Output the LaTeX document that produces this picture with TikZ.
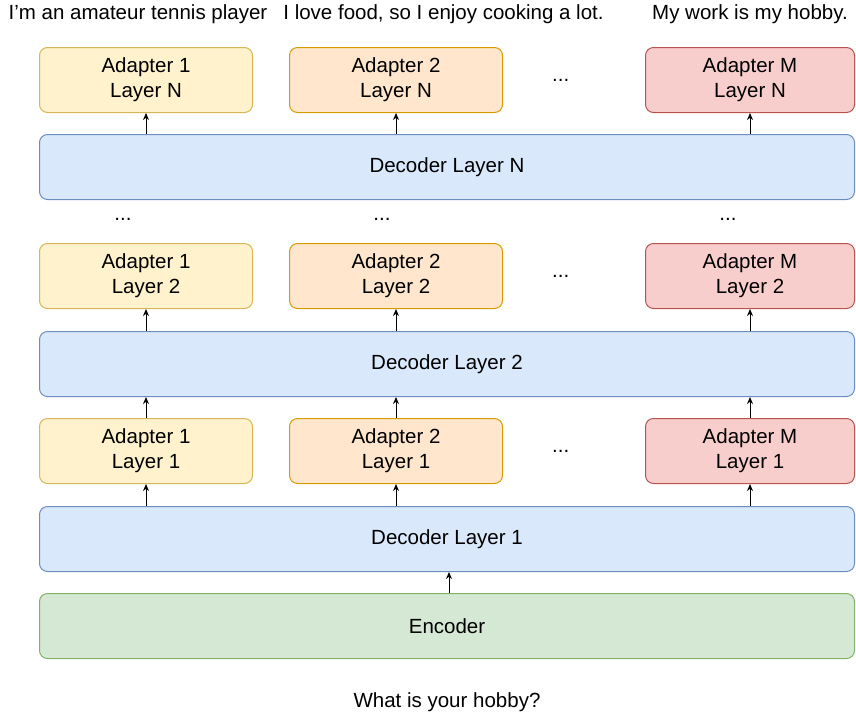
\documentclass[tikz,border=0pt]{standalone}
\usepackage{fontspec}
\setmainfont{Liberation Sans}
\usepackage{xcolor}
\usetikzlibrary{arrows.meta, positioning, calc}
\definecolor{yelfill}{HTML}{FFF2CC}
\definecolor{yeldraw}{HTML}{D6B656}
\definecolor{orafill}{HTML}{FFE6CC}
\definecolor{oradraw}{HTML}{D79B00}
\definecolor{redfill}{HTML}{F8CECC}
\definecolor{reddraw}{HTML}{B85450}
\definecolor{blufill}{HTML}{DAE8FC}
\definecolor{bludraw}{HTML}{6C8EBF}
\definecolor{grnfill}{HTML}{D5E8D4}
\definecolor{grndraw}{HTML}{82B366}
\tikzset{
  layer/.style   = {rectangle, rounded corners=8pt, line width=1pt,
                    minimum width=815pt, minimum height=65pt,
                    align=center, inner sep=0pt},
  adapter/.style = {rectangle, rounded corners=8pt, line width=1pt,
                    minimum width=213pt, minimum height=65pt,
                    align=center, inner sep=0pt},
  ada1/.style    = {adapter, draw=yeldraw, fill=yelfill},
  ada2/.style    = {adapter, draw=oradraw, fill=orafill},
  adaM/.style    = {adapter, draw=reddraw, fill=redfill, minimum width=209pt},
  dec/.style     = {layer, draw=bludraw, fill=blufill},
  arr/.style     = {-{Stealth[length=7pt, width=6pt]}, line width=1pt},
  dots/.style    = {inner sep=0pt},
}

\begin{document}
\begin{tikzpicture}[
  x=1pt, y=1pt,
  font=\fontsize{20.5}{25}\selectfont,
  node distance=21pt,
]
  \useasboundingbox (0,0) rectangle (856,-713);

  % encoder and decoder stack
  \node[layer, draw=grndraw, fill=grnfill] (enc) at (447,-626) {Encoder};
  \node[dec, above=of enc] (dec1) {Decoder Layer 1};

  \node[ada1, above=22pt of dec1.north west, anchor=south west] (a1l1) {Adapter 1\\Layer 1};
  \node[ada2, right=36pt of a1l1] (a2l1) {Adapter 2\\Layer 1};
  \node[adaM, above=22pt of dec1.north east, anchor=south east] (aMl1) {Adapter M\\Layer 1};
  \node[dots, right=49pt of a2l1] (d1) {...};

  \node[dec, above=of a1l1.north west, anchor=south west] (dec2) {Decoder Layer 2};

  \node[ada1, above=22pt of dec2.north west, anchor=south west] (a1l2) {Adapter 1\\Layer 2};
  \node[ada2, right=36pt of a1l2] (a2l2) {Adapter 2\\Layer 2};
  \node[adaM, above=22pt of dec2.north east, anchor=south east] (aMl2) {Adapter M\\Layer 2};
  \node[dots, right=49pt of a2l2] (d2) {...};

  \node[dots] (v1) at ($(a1l2.north)+(-23,24)$) {...};
  \node[dots] (v2) at ($(a2l2.north)+(-14,24)$) {...};
  \node[dots] (vM) at ($(aMl2.north)+(-22,24)$) {...};

  \node[dec, above=43pt of a1l2.north west, anchor=south west] (decN) {Decoder Layer N};

  \node[ada1, above=of decN.north west, anchor=south west] (a1lN) {Adapter 1\\Layer N};
  \node[ada2, right=36pt of a1lN] (a2lN) {Adapter 2\\Layer N};
  \node[adaM, above=of decN.north east, anchor=south east] (aMlN) {Adapter M\\Layer N};
  \node[dots, right=49pt of a2lN] (dN) {...};

  % texts
  \node[anchor=base] (t1) at (138,-19) {I'm an amateur tennis player};
  \node[anchor=base] (t2) at (443.5,-19) {I love food, so I enjoy cooking a lot.};
  \node[anchor=base] (t3) at (750,-19) {My work is my hobby.};
  \node[anchor=base] (q) at (447,-707) {What is your hobby?};

  % arrows
  \draw[arr] ($(enc.north)+(2,0)$) -- ($(dec1.south)+(2,0)$);

  \draw[arr] (a1l1.south |- dec1.north) -- (a1l1.south);
  \draw[arr] (a2l1.south |- dec1.north) -- (a2l1.south);
  \draw[arr] (aMl1.south |- dec1.north) -- (aMl1.south);

  \draw[arr] (a1l1.north) -- (a1l1.north |- dec2.south);
  \draw[arr] (a2l1.north) -- (a2l1.north |- dec2.south);
  \draw[arr] (aMl1.north) -- (aMl1.north |- dec2.south);

  \draw[arr] (a1l2.south |- dec2.north) -- (a1l2.south);
  \draw[arr] (a2l2.south |- dec2.north) -- (a2l2.south);
  \draw[arr] (aMl2.south |- dec2.north) -- (aMl2.south);

  \draw[arr] (a1lN.south |- decN.north) -- (a1lN.south);
  \draw[arr] (a2lN.south |- decN.north) -- (a2lN.south);
  \draw[arr] (aMlN.south |- decN.north) -- (aMlN.south);
\end{tikzpicture}
\end{document}
